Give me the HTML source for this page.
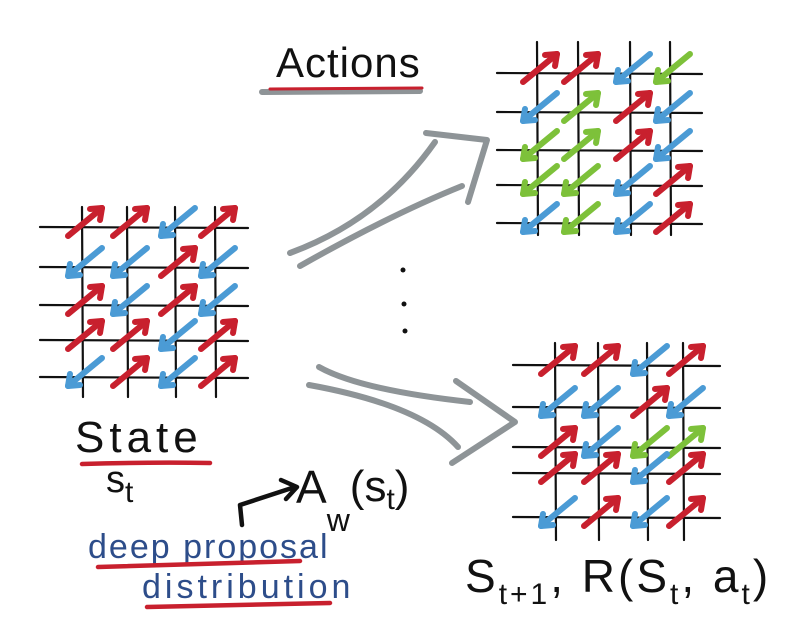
<!DOCTYPE html>
<html><head><meta charset="utf-8"><style>
html,body{margin:0;padding:0;background:#fff;}
svg{display:block;}
text{font-family:"Liberation Sans",sans-serif;}
</style></head><body>
<svg id="s" width="800" height="629" viewBox="0 0 800 629">
<g id="arrows-gray" fill="none" stroke="#8e9497" stroke-width="6" stroke-linecap="round" stroke-linejoin="round">
  <path d="M290 253 Q380 220 435 142"/>
  <path d="M300 266 Q390 215 462 186"/>
  <path d="M426 133 L487 140 L468 202"/>
  <path d="M319 367 Q360 390 470 402"/>
  <path d="M309 385 Q420 405 458 447"/>
  <path d="M456 381 L515 422 L452 463"/>
</g>
<g fill="#111">
  <circle cx="403" cy="270" r="2.5"/>
  <circle cx="404" cy="304" r="2.5"/>
  <circle cx="405" cy="331" r="2.5"/>
</g>
<text x="276" y="77" font-size="42" fill="#111" letter-spacing="1">Actions</text>
<path d="M262 92 L420 91" stroke="#8e9497" stroke-width="6" stroke-linecap="round"/>
<path d="M270 89 L422 88" stroke="#c8202e" stroke-width="3" stroke-linecap="round"/>
<text x="75" y="452" font-size="44" fill="#111" letter-spacing="5">State</text>
<path d="M82 464 Q150 462 210 463" stroke="#c8202e" stroke-width="4.5" fill="none" stroke-linecap="round"/>
<text x="106" y="492" font-size="38" fill="#111">s<tspan font-size="30" dy="10">t</tspan></text>
<path d="M242 525 L240 505 L295 487 M281 480 L297 487 L286 499" stroke="#111" stroke-width="4.5" fill="none" stroke-linecap="round" stroke-linejoin="round"/>
<text x="296" y="503" font-size="46" fill="#111">A<tspan font-size="32" dy="28">w</tspan><tspan font-size="44" dy="-30">(s</tspan><tspan font-size="30" dy="8">t</tspan><tspan font-size="44" dy="-8">)</tspan></text>
<text x="88" y="558" font-size="34" fill="#2d4d8a" letter-spacing="2">deep proposal</text>
<path d="M98 567 L300 561" stroke="#c8202e" stroke-width="4.5" stroke-linecap="round"/>
<text x="142" y="598" font-size="34" fill="#2d4d8a" letter-spacing="4">distribution</text>
<path d="M147 607 L330 603" stroke="#c8202e" stroke-width="4.5" stroke-linecap="round"/>
<text x="465" y="592" font-size="46" fill="#111" letter-spacing="3">S<tspan font-size="30" dy="12">t+1</tspan><tspan dy="-12">, R(S</tspan><tspan font-size="30" dy="12">t</tspan><tspan dy="-12">, a</tspan><tspan font-size="30" dy="12">t</tspan><tspan dy="-12">)</tspan></text>
</svg>
<script>
// Grid arrow patterns: R = red up-right, B = blue down-left, G = green up-right, g = green down-left
const stateGrid = ["RRBR","BBRB","RBRB","RRBR","BRBR"];
const actionGridTop = ["RRBg","BGRB","gGRB","ggBR","BgBR"];
const actionGridBottom = ["RRBR","BBRB","RBgG","RRBR","BRBR"];

const NS="http://www.w3.org/2000/svg";
const svg=document.getElementById('s');
const COL={R:"#c8202e",B:"#4b9bd5",G:"#7dc13a",g:"#7dc13a"};
function line(g,x1,y1,x2,y2,c,w){
  const l=document.createElementNS(NS,'line');
  l.setAttribute('x1',x1);l.setAttribute('y1',y1);l.setAttribute('x2',x2);l.setAttribute('y2',y2);
  l.setAttribute('stroke',c);l.setAttribute('stroke-width',w);l.setAttribute('stroke-linecap','round');
  g.appendChild(l);return l;
}
function drawGrid(name,pattern,hy,vx,x0,x1,y0,y1){
  const g=document.createElementNS(NS,'g');
  
  
  svg.appendChild(g);
  hy.forEach(y=>{const l=line(g,x0,y,x1,y+1,'#111',2.2);
    
    });
  vx.forEach(x=>{const l=line(g,x,y0,x+1,y1,'#111',2.2);
    
    });
  pattern.forEach((row,i)=>{
    [...row].forEach((t,j)=>{
      const cx=vx[j]+3, cy=hy[i]-5;
      const up=(t==='R'||t==='G');
      const c=COL[t];
      const a=document.createElementNS(NS,'g');
      
      
      g.appendChild(a);
      const tx=up?cx+17:cx-17, ty=up?cy-14:cy+14;
      const sx=up?cx-17:cx+17, sy=up?cy+14:cy-14;
      line(a,sx,sy,tx,ty,c,6);
      const d=up?1:-1;
      line(a,tx,ty,tx-12*d,ty+1*d,c,6);
      line(a,tx,ty,tx-2*d,ty+12*d,c,6);
    });
  });
}
drawGrid('state-grid',stateGrid,[227,267,305,340,377],[82,127,175,215],40,248,207,397);
drawGrid('action-grid-top',actionGridTop,[73,112,150,185,223],[537,578,630,670],497,702,42,235);
drawGrid('action-grid-bottom',actionGridBottom,[365,407,447,473,517],[555,598,647,683],513,720,343,540);
</script>
</body></html>
